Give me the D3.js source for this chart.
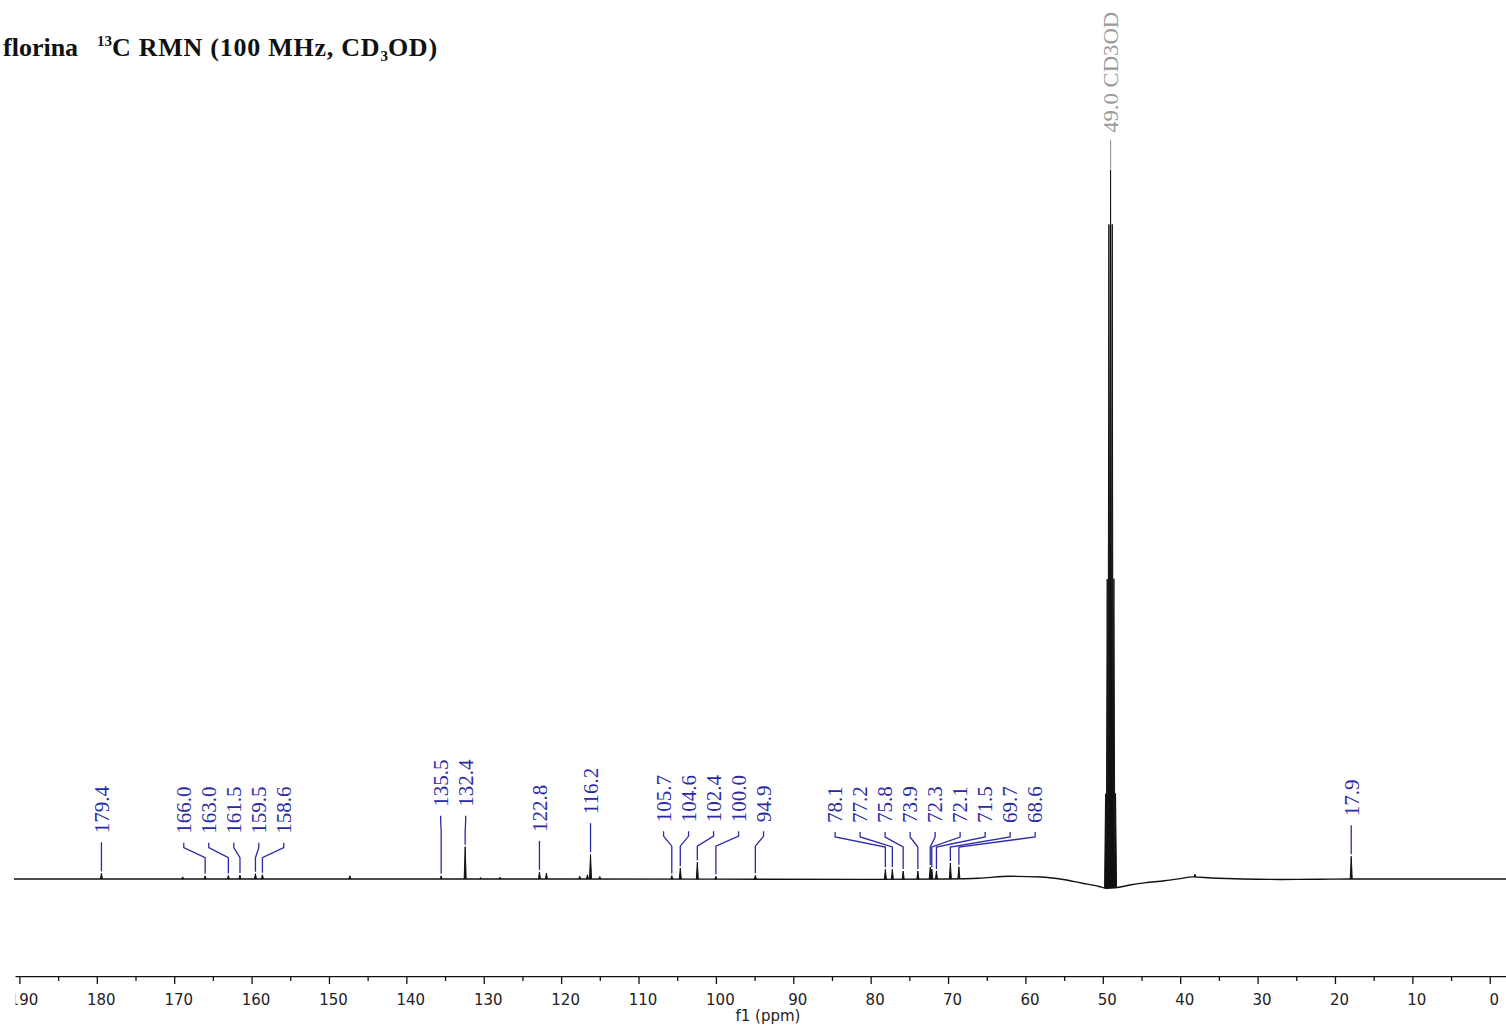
<!DOCTYPE html>
<html>
<head>
<meta charset="utf-8">
<script src="https://cdn.jsdelivr.net/npm/d3@7"></script>
<style>
  body { margin: 0; background: #fff; }
  svg { display: block; }
</style>
</head>
<body>
<svg id="chart" width="1506" height="1030"></svg>
<script>
// Assigned 13C resonances (ppm) and peak heights (CD3OD central line = 100)
const shifts  = [179.4, 166.0, 163.0, 161.5, 159.5, 158.6, 135.5, 132.4, 122.8, 116.2,
                 105.7, 104.6, 102.4, 100.0, 94.9,
                 78.1, 77.2, 75.8, 73.9, 72.3, 72.1, 71.5, 69.7, 68.6, 17.9];
const heights = [0.8, 0.45, 0.5, 0.55, 0.75, 0.6, 0.45, 4.55, 1.0, 3.5,
                 0.5, 1.55, 2.4, 0.4, 0.55,
                 1.4, 1.4, 1.15, 1.15, 1.7, 1.4, 1.15, 2.25, 1.7, 3.2];
const shiftLabels = shifts.map(v => v.toFixed(1));

// Peaks labelled together as one fanned row of annotations (indices into shifts)
const clusters = [[0], [1, 2, 3, 4, 5], [6, 7], [8], [9],
                  [10, 11, 12, 13, 14], [15, 16, 17, 18, 19, 20, 21, 22, 23], [24]];

// Small unassigned signals
const minorShifts  = [168.9, 147.3, 130.4, 127.9, 121.9, 117.6, 116.6, 115.0, 38.1];
const minorHeights = [0.3, 0.45, 0.2, 0.25, 0.85, 0.4, 0.6, 0.35, 0.4];

// CD3OD septet (J_CD ~ 21.5 Hz at 100 MHz)
const solventShifts  = [49.645, 49.43, 49.215, 49.0, 48.785, 48.57, 48.355];
const solventHeights = [13.3, 43.6, 93.6, 101.3, 93.6, 43.6, 13.3];
const solventLabel = "49.0 CD3OD";
const solventShift = 49.0;

// Baseline roll (ppm, level)
const baselinePpm   = [190.7, 120, 80, 70, 66, 62, 58, 55.5, 52.6, 50.5, 49.6, 48.4, 46.5, 44.6, 42, 40, 38.4, 36, 32, 27, 22, 18, -2.1];
const baselineLevel = [0, 0, -0.05, 0, 0.1, 0.38, 0.28, 0.0, -0.6, -1.05, -1.3, -1.25, -0.85, -0.55, -0.25, 0.05, 0.3, 0.15, 0, -0.06, -0.04, 0, 0];

// Axis ticks
const majorTicks = d3.range(0, 191, 10);
const minorTicks = d3.range(5, 191, 10);
const axisTitle = "f1 (ppm)";

const W = 1506, H = 1030;
const svg = d3.select("#chart");
const blue = "#2a2aa8";
const labelFont = "'Liberation Serif', 'Times New Roman', serif";

const x = d3.scaleLinear().domain([190.7, -2.1]).range([14, 1506]);
const y = d3.scaleLinear().domain([0, 100]).range([879, 170]);
const baseAt = d3.scaleLinear().domain(baselinePpm).range(baselineLevel).clamp(true);

// Title
const title = svg.append("text")
  .attr("x", 3).attr("y", 56)
  .attr("font-family", labelFont)
  .attr("font-weight", "bold")
  .attr("font-size", 26)
  .attr("fill", "#111");
title.append("tspan").text("florina");
title.append("tspan").attr("x", 97).attr("dy", -10).attr("font-size", 15).text("13");
title.append("tspan").attr("dy", 10).attr("letter-spacing", 0.75).text("C RMN (100 MHz, CD");
title.append("tspan").attr("dy", 5).attr("font-size", 15).text("3");
title.append("tspan").attr("dy", -5).attr("letter-spacing", 0.75).text("OD)");

// Axis (the plot area starts just inside the left edge, trimming the first label)
const axisY = 976;
svg.append("clipPath").attr("id", "axisClip")
  .append("rect").attr("x", 15.5).attr("y", 0).attr("width", W).attr("height", H);

const axisG = svg.append("g")
  .attr("clip-path", "url(#axisClip)")
  .attr("transform", `translate(0,${axisY})`);

axisG.append("g")
  .call(d3.axisBottom(x).tickValues(minorTicks).tickSize(5).tickSizeOuter(0).tickFormat(""))
  .call(g => g.select(".domain").remove())
  .call(g => g.selectAll(".tick line").attr("stroke", "#111").attr("stroke-width", 1.3));

axisG.append("g")
  .call(d3.axisBottom(x).tickValues(majorTicks).tickSize(8).tickSizeOuter(0).tickPadding(10).tickFormat(d3.format("d")))
  .call(g => g.select(".domain").attr("stroke", "#111").attr("stroke-width", 1.6))
  .call(g => g.selectAll(".tick line").attr("stroke", "#111").attr("stroke-width", 1.3))
  .call(g => g.selectAll(".tick text")
    .attr("x", 4)
    .attr("font-family", "'DejaVu Sans', Verdana, sans-serif")
    .attr("font-size", 15)
    .attr("fill", "#222"));

svg.append("text")
  .attr("x", (x.range()[0] + x.range()[1]) / 2 + 8)
  .attr("y", 1021)
  .attr("text-anchor", "middle")
  .attr("font-family", "'DejaVu Sans', Verdana, sans-serif")
  .attr("font-size", 15)
  .attr("fill", "#222")
  .text(axisTitle);

// Spectrum baseline
const baselinePts = baselinePpm.map((p, i) => [p, baselineLevel[i]]);
svg.append("path")
  .datum(baselinePts)
  .attr("fill", "none")
  .attr("stroke", "#111")
  .attr("stroke-width", 1.4)
  .attr("d", d3.line().x(d => x(d[0])).y(d => y(d[1])).curve(d3.curveMonotoneX));

// Peaks as narrow lines rising from the local baseline
const halfWidth = 1.0;
const peakLine = d3.line();
function peakPath(ppm, h) {
  const b = baseAt(ppm), cx = x(ppm);
  return peakLine([[cx - halfWidth, y(b)], [cx, y(b + h)], [cx + halfWidth, y(b)]]);
}
const allPeaks = []
  .concat(minorShifts.map((p, i) => ({ p, h: minorHeights[i] })))
  .concat(shifts.map((p, i) => ({ p, h: heights[i] })))
  .concat(solventShifts.map((p, i) => ({ p, h: solventHeights[i] })));

svg.append("g").selectAll("path")
  .data(allPeaks)
  .join("path")
  .attr("d", d => peakPath(d.p, d.h))
  .attr("fill", "#111")
  .attr("stroke", "#111")
  .attr("stroke-width", 1.0)
  .attr("stroke-linejoin", "miter");

// Peak annotations; the crowded sugar region is fanned slightly downfield of its span
const labelGap = 40, spacing = 25;
const clusterNudge = new Map([[6, 13]]);
const annG = svg.append("g");
clusters.forEach((idx, ci) => {
  const pts = idx.map(i => {
    const b = baseAt(shifts[i]);
    return { i, px: x(shifts[i]), top: y(b + heights[i]) };
  });
  const xs = pts.map(d => d.px);
  const center = (d3.min(xs) + d3.max(xs)) / 2 + (clusterNudge.get(ci) || 0);
  const bottom = d3.min(pts, d => d.top) - labelGap;
  pts.forEach((d, k) => {
    const lx = center + (k - (pts.length - 1) / 2) * spacing;
    annG.append("text")
      .attr("transform", `translate(${lx},${bottom}) rotate(-90)`)
      .attr("dy", "0.35em")
      .attr("font-family", labelFont)
      .attr("font-size", 21)
      .attr("fill", blue)
      .text(shiftLabels[d.i]);
    annG.append("path")
      .attr("d", d3.line()([[lx, bottom + 9], [lx, bottom + 14], [d.px, bottom + 24], [d.px, d.top - 2]]))
      .attr("fill", "none")
      .attr("stroke", blue)
      .attr("stroke-width", 1.3);
  });
});

// Solvent annotation
{
  const sx = x(solventShift);
  const top = y(baseAt(solventShift) + d3.max(solventHeights));
  const bottom = top - 37;
  annG.append("text")
    .attr("transform", `translate(${sx},${bottom}) rotate(-90)`)
    .attr("dy", "0.35em")
    .attr("font-family", labelFont)
    .attr("font-size", 21)
    .attr("textLength", 121)
    .attr("lengthAdjust", "spacingAndGlyphs")
    .attr("fill", "#9a9a9a")
    .text(solventLabel);
  annG.append("line")
    .attr("x1", sx).attr("x2", sx)
    .attr("y1", bottom + 7).attr("y2", top - 1)
    .attr("stroke", "#9a9a9a")
    .attr("stroke-width", 1.2);
}
</script>
</body>
</html>
